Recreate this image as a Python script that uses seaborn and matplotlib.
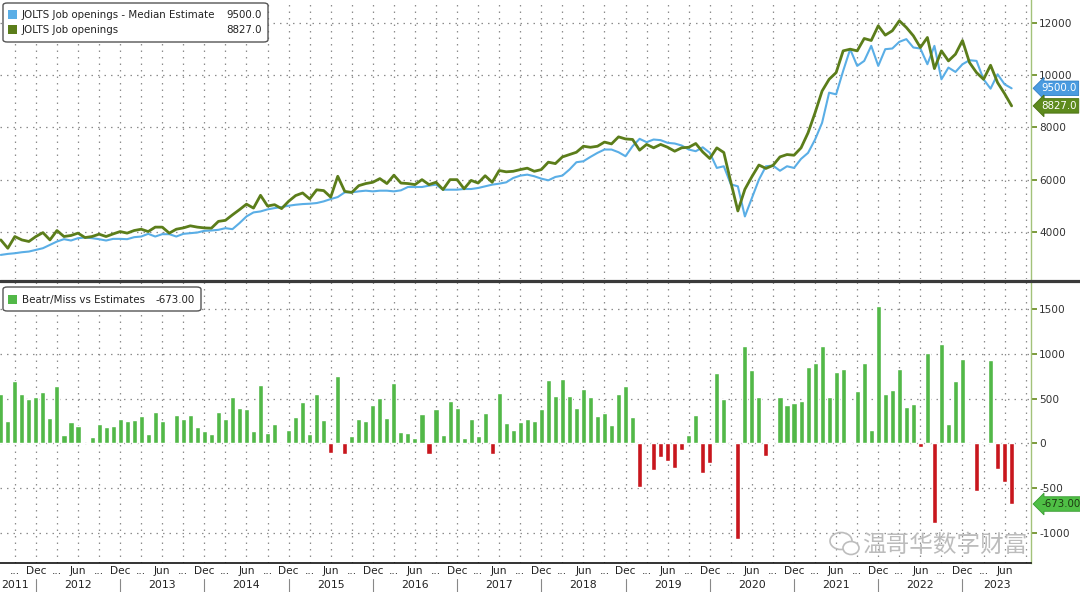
import numpy as np
import pandas as pd
import matplotlib
matplotlib.use("Agg")
from matplotlib import pyplot as plt
from matplotlib import transforms
from matplotlib.patches import FancyBboxPatch, Rectangle, Ellipse
from matplotlib.lines import Line2D
import seaborn as sns

# monthly, Jul 2011 .. Jul 2023 (thousands)
months = pd.date_range("2011-07-01", "2023-07-01", freq="MS")

estimate = [
    3115, 3154, 3179, 3218, 3244, 3308,                                  # 2011 H2
    3372, 3500, 3628, 3718, 3667, 3756, 3782, 3756, 3718, 3667, 3730, 3730,  # 2012
    3718, 3795, 3820, 3923, 3820, 3910, 3910, 3820, 3923, 3949, 3974, 4038,  # 2013
    4051, 4077, 4140, 4102, 4333, 4590, 4744, 4782, 4860, 4910, 4949, 5000,  # 2014
    5038, 5064, 5077, 5103, 5167, 5256, 5333, 5513, 5513, 5551, 5577, 5551,  # 2015
    5577, 5577, 5551, 5590, 5718, 5718, 5718, 5770, 5808, 5615, 5615, 5615,  # 2016
    5641, 5641, 5680, 5744, 5808, 5846, 5897, 6064, 6154, 6192, 6130, 6038,  # 2017
    5974, 6103, 6154, 6385, 6667, 6705, 6872, 7026, 7154, 7154, 7051, 6897,  # 2018
    7282, 7564, 7436, 7538, 7513, 7410, 7385, 7308, 7154, 7090, 7240, 7030,  # 2019
    6449, 6513, 5820, 5744, 4590, 5300, 6000, 6513, 6539, 6340, 6513, 6449,  # 2020
    6795, 7026, 7538, 8180, 9333, 9269, 10167, 11000, 10359, 10551, 11128, 10359,  # 2021
    11000, 11026, 11282, 11385, 11064, 11026, 10423, 11128, 9846, 10295, 10128, 10423,  # 2022
    10577, 10551, 9846, 9487, 10038, 9654, 9500,                         # 2023
]

actual = [
    3690, 3370, 3820, 3690, 3630, 3820,
    3970, 3690, 4050, 3820, 3860, 3950, 3780, 3820, 3910, 3820, 3920, 4010,
    3950, 4050, 4100, 4010, 4180, 4180, 3950, 4100, 4150, 4230, 4180, 4150,
    4140, 4400, 4440, 4650, 4850, 5060, 4910, 5400, 4990, 5040, 4890, 5170,
    5390, 5490, 5260, 5610, 5580, 5330, 6130, 5550, 5510, 5770, 5850, 5900,
    6040, 5850, 6170, 5870, 5850, 5810, 6000, 5810, 5900, 5620, 6000, 6000,
    5650, 5970, 5870, 6150, 5900, 6350, 6300, 6320, 6385, 6440, 6320, 6385,
    6670, 6615, 6870, 6960, 7050, 7280, 7240, 7280, 7440, 7370, 7640, 7560,
    7540, 7130, 7350, 7220, 7350, 7240, 7090, 7220, 7240, 7385, 7060, 6810,
    7218, 7040, 5900, 4800, 5630, 6115, 6560, 6430, 6545, 6872, 6962, 6936,
    7218, 7795, 8564, 9397, 9846, 10103, 10936, 11000, 10936, 11410, 11333, 11897,
    11538, 11705, 12090, 11833, 11513, 11064, 11449, 10256, 10936, 10551, 10808, 11333,
    10487, 10103, 9846, 10385, 9718, 9295, 8827,
]

beat_miss = [
    550, 254, 699, 545, 493, 519,
    571, 287, 641, 100, 241, 197, 5, 74, 222, 178, 197, 274,
    254, 260, 304, 111, 348, 254, -10, 322, 270, 319, 185, 137,
    111, 345, 267, 519, 397, 386, 137, 648, 119, 215, 3, 148,
    297, 460, 111, 552, 260, -102, 754, -113, 85, 271, 250, 428,
    509, 280, 676, 131, 120, 64, 328, -117, 380, 94, 473, 391,
    58, 272, 87, 343, -117, 558, 232, 150, 243, 272, 247, 380,
    706, 528, 717, 528, 398, 602, 514, 309, 335, 206, 547, 643,
    291, -480, 0, -295, -154, -191, -276, -72, 94, 317, -324, -214,
    780, 500, 0, -1058, 1084, 817, 521, -137, 0, 521, 428, 454,
    477, 854, 891, 1084, 521, 798, 827, 5, 587, 900, 148, 1529,
    545, 600, 833, 408, 437, -37, 1010, -888, 1103, 215, 699, 940,
    7, -525, 0, 927, -284, -432, -673,
]

top_ticks = [4000, 6000, 8000, 10000, 12000]
bottom_ticks = [-1000, -500, 0, 500, 1000, 1500]

BLUE = "#5aaee6"
OLIVE = "#5b7d1a"
BAR_G = "#52b848"
BAR_R = "#c8161d"
GRID = "#8c8c8c"

W, H = 1080, 592


def fx(px):
    return px / W


def fy(py):
    return 1 - py / H


sns.set_theme(style="white")
plt.rcParams["font.family"] = ["DejaVu Sans", "Noto Sans CJK SC"]

df = pd.DataFrame({"month": months, "estimate": estimate, "actual": actual, "beat_miss": beat_miss})
df["idx"] = np.arange(len(df))
df["sign"] = np.where(df["beat_miss"] >= 0, "beat", "miss")

fig = plt.figure(figsize=(W / 100, H / 100), dpi=100)
ax1 = fig.add_axes([0, fy(279), fx(1031), 279 / H])
ax2 = fig.add_axes([0, fy(563), fx(1031), (563 - 282) / H])

sns.lineplot(data=df, x="idx", y="estimate", color=BLUE, linewidth=1.5, ax=ax1)
sns.lineplot(data=df, x="idx", y="actual", color=OLIVE, linewidth=2.0, ax=ax1)
sns.barplot(data=df, x="idx", y="beat_miss", hue="sign", palette={"beat": BAR_G, "miss": BAR_R},
            native_scale=True, width=0.72, dodge=False, legend=False, errorbar=None,
            saturation=1, ax=ax2)

# quarterly grid / tick positions: Sep, Dec, Mar, Jun
q_idx = [i for i in range(len(df) + 3) if ((7 + i - 1) % 12 + 1) in (3, 6, 9, 12)]
q_lab = []
for i in q_idx:
    m = (7 + i - 1) % 12 + 1
    q_lab.append("Dec" if m == 12 else "Jun" if m == 6 else "...")
q_lab = [lab if i <= 143 else "" for i, lab in zip(q_idx, q_lab)]

for ax in (ax1, ax2):
    ax.set_xlim(-0.114, 146.76)
    ax.set_xticks(q_idx)
    ax.yaxis.tick_right()
    ax.grid(True, linestyle=(0, (1.2, 4)), color=GRID, linewidth=0.9)
    ax.set_xlabel("")
    ax.set_ylabel("")
    for s in ("left", "top"):
        ax.spines[s].set_visible(False)
    ax.spines["right"].set_color("#a3c27a")
    ax.spines["right"].set_linewidth(1.0)
    ax.tick_params(axis="y", length=4, color="#6b8e23", labelsize=7.6, labelcolor="#333333", pad=2)

ax1.set_ylim(2192, 12885)
ax1.set_yticks(top_ticks)
ax1.set_yticklabels([str(t) for t in top_ticks])
ax1.tick_params(axis="x", length=0, labelbottom=False)
ax1.spines["bottom"].set_visible(False)

ax2.set_ylim(-1329, 1796)
ax2.set_yticks(bottom_ticks)
ax2.set_yticklabels([str(t) for t in bottom_ticks])
ax2.set_xticklabels(q_lab)
ax2.tick_params(axis="x", length=3, direction="inout", color="#222222", labelsize=7.6,
                labelcolor="#222222", pad=1)
ax2.spines["bottom"].set_color("#111111")
ax2.spines["bottom"].set_linewidth(1.2)

# year row
bx = transforms.blended_transform_factory(ax2.transData, ax2.transAxes)
years = [(2.0, "2011")] + [(11 + 12 * k, str(2012 + k)) for k in range(11)] + [(141.9, "2023")]
for xpos, yr in years:
    ax2.text(xpos, -0.078, yr, transform=bx, ha="center", va="center", fontsize=7.8,
             color="#222222", clip_on=False)
for i in range(5, 145, 12):
    ax2.plot([i, i], [-0.057, -0.105], transform=bx, color="#888888", linewidth=0.8, clip_on=False)

# separator between panels
fig.add_artist(Line2D([0, 1], [fy(280.5), fy(280.5)], color="#3a3a3a", linewidth=2.3))

# right value tags
t1 = transforms.blended_transform_factory(ax1.transAxes, ax1.transData)
ax1.text(1 + 10 / 1031, estimate[-1], f"{estimate[-1]:.1f}", transform=t1, ha="left", va="center",
         fontsize=7.4, color="white", clip_on=False,
         bbox=dict(boxstyle="larrow,pad=0.22", fc="#4a9be0", ec="#2f7fc4", lw=0.6))
ax1.text(1 + 10 / 1031, actual[-1], f"{actual[-1]:.1f}", transform=t1, ha="left", va="center",
         fontsize=7.4, color="white", clip_on=False,
         bbox=dict(boxstyle="larrow,pad=0.22", fc="#5d8a1c", ec="#4a7012", lw=0.6))
t2 = transforms.blended_transform_factory(ax2.transAxes, ax2.transData)
ax2.text(1 + 10 / 1031, beat_miss[-1], f"{beat_miss[-1]:.2f}", transform=t2, ha="left", va="center",
         fontsize=7.4, color="#1d3b12", clip_on=False,
         bbox=dict(boxstyle="larrow,pad=0.22", fc="#4fbf45", ec="#3a9a33", lw=0.6))

# legends (Bloomberg style boxes)
fig.add_artist(FancyBboxPatch((fx(3), fy(42)), fx(265), 39 / H, boxstyle="round,pad=0,rounding_size=0.004",
                              fc="white", ec="#555555", lw=1.0))
fig.add_artist(Rectangle((fx(8), fy(19)), fx(9), 9 / H, fc=BLUE, ec="none"))
fig.add_artist(Rectangle((fx(8), fy(34)), fx(9), 9 / H, fc=OLIVE, ec="none"))
fig.text(fx(22), fy(15), "JOLTS Job openings - Median Estimate", fontsize=7.4, color="#222222", va="center")
fig.text(fx(262), fy(15), f"{estimate[-1]:.1f}", fontsize=7.4, color="#222222", va="center", ha="right")
fig.text(fx(22), fy(30), "JOLTS Job openings", fontsize=7.4, color="#222222", va="center")
fig.text(fx(262), fy(30), f"{actual[-1]:.1f}", fontsize=7.4, color="#222222", va="center", ha="right")

fig.add_artist(FancyBboxPatch((fx(3), fy(311)), fx(198), 24 / H, boxstyle="round,pad=0,rounding_size=0.004",
                              fc="white", ec="#555555", lw=1.0))
fig.add_artist(Rectangle((fx(8), fy(304)), fx(9), 9 / H, fc=BAR_G, ec="none"))
fig.text(fx(22), fy(300), "Beatr/Miss vs Estimates", fontsize=7.4, color="#222222", va="center")
fig.text(fx(195), fy(300), f"{beat_miss[-1]:.2f}", fontsize=7.4, color="#222222", va="center", ha="right")

# watermark
ident = transforms.IdentityTransform()
fig.add_artist(Ellipse((841, H - 541), 22, 17, transform=ident, fc="none", ec="#bdbdbd", lw=1.2))
fig.add_artist(Ellipse((851, H - 548), 16, 13, transform=ident, fc="white", ec="#bdbdbd", lw=1.2))
fig.text(fx(862), fy(545), "温哥华数字财富", fontsize=17, family=["Noto Sans CJK SC", "DejaVu Sans"],
         color="#bcbcbc", va="center", ha="left")

fig.savefig("out.png", dpi=100)
